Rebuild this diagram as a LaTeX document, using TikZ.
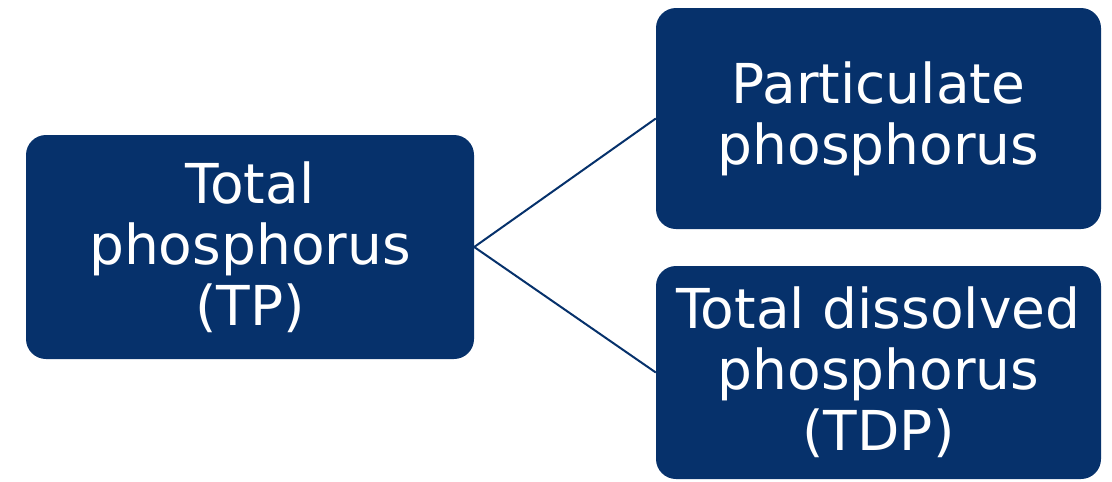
\documentclass[tikz,border=0pt]{standalone}
\usepackage{fontspec}
\setmainfont{DejaVu Sans}
\definecolor{navy}{RGB}{6,49,107}
\begin{document}
\begin{tikzpicture}[x=1pt,y=-1pt,
  box/.style={fill=navy,draw=none,rounded corners=20pt,text=white,align=center,
    font=\fontsize{55}{61}\selectfont,inner sep=0pt},
  link/.style={draw=navy,line width=2pt}]
\useasboundingbox (0,0) rectangle (1112,482);
\node[box,minimum width=448pt,minimum height=224pt] (tp) at (250,247) {Total\\phosphorus\\(TP)};
\node[box,minimum width=445pt,minimum height=221pt] (pp) at (878.5,118.5) {Particulate\\phosphorus};
\node[box,minimum width=445pt,minimum height=213pt] (tdp) at (878.5,372.5) {Total dissolved\\phosphorus\\(TDP)};
\draw[link] (tp.east) -- (pp.west);
\draw[link] (tp.east) -- (tdp.west);
\end{tikzpicture}
\end{document}
